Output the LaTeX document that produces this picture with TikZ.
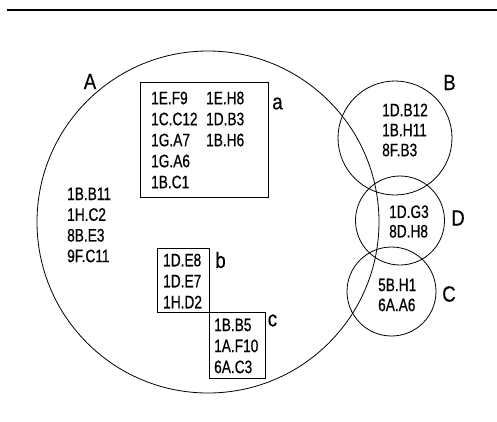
\documentclass[tikz,border=0pt]{standalone}
\usepackage{fontspec}
\setmainfont{Liberation Sans}[FakeStretch=0.76,FakeBold=0.6]
\newfontfamily\labelfont{Liberation Sans}[FakeStretch=0.85,FakeBold=0.4]
\begin{document}
\begin{tikzpicture}[x=1pt,y=-1pt,
  setc/.style={draw,circle,inner sep=0pt,line width=0.8pt},
  listbox/.style={draw,rectangle,inner sep=0pt,line width=0.8pt,anchor=north west},
  entries/.style={inner sep=0pt,anchor=west,align=left,font=\fontsize{18}{21}\selectfont},
  setlabel/.style={inner sep=0pt,font=\labelfont\fontsize{22}{24}\selectfont}]
\useasboundingbox (0,0) rectangle (497,421);
\coordinate (r0) at (7,10);
\coordinate (r1) at (497,10);
\draw[line width=2pt] (r0) -- (r1);
% sets
\node[setc,minimum size=342pt] (A) at (208,222) {};
\node[setc,minimum size=114pt] (B) at (395,138) {};
\node[setc,minimum size=89pt] (D) at (400,220.5) {};
\node[setc,minimum size=89pt] (C) at (391.5,291.5) {};
% set labels
\node[setlabel] (lA) at (90,81.5) {A};
\node[setlabel] (lB) at (449.5,82.5) {B};
\node[setlabel] (lD) at (458,218) {D};
\node[setlabel] (lC) at (449,294) {C};
% boxes
\node[listbox,minimum width=128pt,minimum height=115pt] (a) at (140,82) {};
\node[listbox,minimum width=52pt,minimum height=64pt] (b) at (157,248) {};
\node[listbox,minimum width=56pt,minimum height=66pt] (c) at (209,312) {};
\node[setlabel] (la) at (277.5,103.5) {a};
\node[setlabel] (lb) at (220.5,260) {b};
\node[setlabel] (lc) at (272.5,320.5) {c};
% entries
\node[entries] (ta) at (151,140) {\makebox[55pt][l]{1E.F9}1E.H8\\\makebox[55pt][l]{1C.C12}1D.B3\\\makebox[55pt][l]{1G.A7}1B.H6\\1G.A6\\1B.C1};
\node[entries,font=\fontsize{18}{20.7}\selectfont] (tA) at (67,225) {1B.B11\\1H.C2\\8B.E3\\9F.C11};
\node[entries] (tb) at (163,281) {1D.E8\\1D.E7\\1H.D2};
\node[entries] (tc) at (214,346) {1B.B5\\1A.F10\\6A.C3};
\node[entries,font=\fontsize{18}{20}\selectfont] (tB) at (382,130) {1D.B12\\1B.H11\\8F.B3};
\node[entries,font=\fontsize{18}{19.5}\selectfont] (tD) at (389,221.5) {1D.G3\\8D.H8};
\node[entries,font=\fontsize{18}{20}\selectfont] (tC) at (378,295) {5B.H1\\6A.A6};
\end{tikzpicture}
\end{document}
